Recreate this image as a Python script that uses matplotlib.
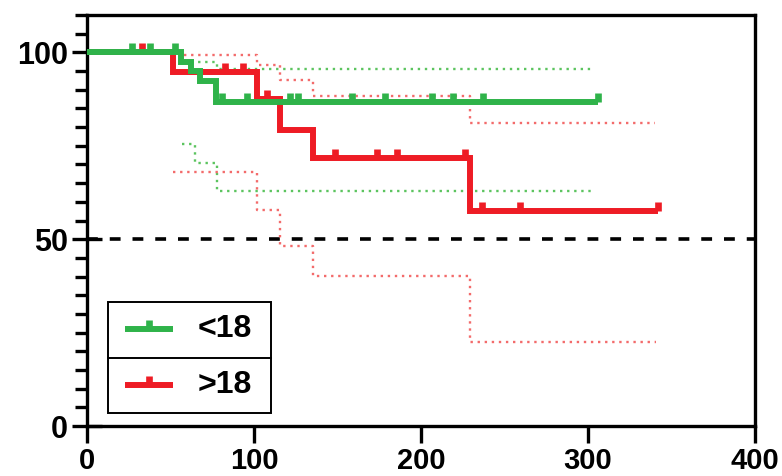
import numpy as np
import matplotlib
matplotlib.use("Agg")
import matplotlib.pyplot as plt
from matplotlib.patches import Rectangle
from matplotlib.lines import Line2D

# ---------------- data ----------------
# group <18 : Kaplan-Meier steps (event times, survival after event)
g_times = [0, 56.5, 62.5, 67.5, 77]
g_surv = [100, 97.5, 95.0, 92.3, 86.8]
g_end = 306
g_censor = [26.7, 37.7, 52.5, 80.7, 95.6, 121.6, 126.5, 158.5, 178.4, 206.4, 219.4, 237.3, 306]

# group >18
r_times = [0, 51.7, 101.6, 115.6, 135.5, 229.3]
r_surv = [100, 94.8, 87.4, 79.1, 71.6, 57.6]
r_end = 342
r_censor = [32.7, 82.6, 93.6, 107.6, 148.5, 173.5, 185.5, 226.3, 236.3, 259.3, 342]

# 95% confidence bands (step curves)
g_up_t = [62, 77.6]
g_up_v = [97.4, 95.5]
g_up_end = 303
g_lo_t = [56.7, 64.7, 77.6]
g_lo_v = [75.6, 70.5, 62.9]
g_lo_end = 302

r_up_t = [58, 101.6, 115.6, 135.5, 229.3]
r_up_v = [99.2, 96.5, 92.7, 88.4, 81.1]
r_up_end = 340
r_lo_t = [51.7, 101.6, 115.6, 135.5, 229.3]
r_lo_v = [68.0, 57.7, 48.1, 40.1, 22.5]
r_lo_end = 341

labels = ["<18", ">18"]
median_line = 50
x_ticks = [0, 100, 200, 300, 400]
y_ticks = [0, 50, 100]

GREEN = "#2fb34a"
RED = "#ee1c25"
GREEN_CI = "#5cc45f"
RED_CI = "#f36b6b"

plt.rcParams['font.family'] = ['Liberation Sans', 'DejaVu Sans']
plt.rcParams['font.weight'] = 'bold'

fig = plt.figure(figsize=(7.82, 4.76), dpi=100)
ax = fig.add_axes([87/782, 50/476, 668/782, 411/476])
ax.set_xlim(0, 400)
ax.set_ylim(0, 110)


def step_xy(times, vals, end):
    x = list(times) + [end]
    y = list(vals) + [vals[-1]]
    return x, y


def surv_at(times, vals, t):
    idx = np.searchsorted(np.asarray(times), t, side='right') - 1
    return vals[max(idx, 0)]


# median reference line
ax.axhline(median_line, color='black', lw=2.6, linestyle=(0, (3.0, 3.3)), zorder=1)

# CI bands
for (t, v, e, c) in [(g_up_t, g_up_v, g_up_end, GREEN_CI), (g_lo_t, g_lo_v, g_lo_end, GREEN_CI),
                     (r_up_t, r_up_v, r_up_end, RED_CI), (r_lo_t, r_lo_v, r_lo_end, RED_CI)]:
    x, y = step_xy(t, v, e)
    ax.step(x, y, where='post', color=c, lw=1.7, linestyle=(0, (1, 2)), zorder=2)

# KM curves (red first, green on top)
for (t, v, e, cens, c) in [(r_times, r_surv, r_end, r_censor, RED),
                           (g_times, g_surv, g_end, g_censor, GREEN)]:
    x, y = step_xy(t, v, e)
    ax.step(x, y, where='post', color=c, lw=4.3, solid_joinstyle='miter',
            solid_capstyle='butt', zorder=3)
    cy = [surv_at(t, v, ct) for ct in cens]
    ax.plot(cens, cy, linestyle='none', marker=2, markersize=6.2, mew=4.8,
            color=c, zorder=3)

# spines
for s in ax.spines.values():
    s.set_linewidth(2.4)
    s.set_color('black')

ax.set_xticks(x_ticks)
ax.set_xticklabels([str(v) for v in x_ticks])
ax.set_yticks(y_ticks)
ax.set_yticklabels([str(v) for v in y_ticks])
ax.set_yticks(np.arange(0, 111, 5), minor=True)
ax.tick_params(axis='y', which='major', direction='inout', length=21, width=2.4,
               labelsize=22, pad=3)
ax.tick_params(axis='y', which='minor', direction='out', length=8.5, width=2.4)
ax.tick_params(axis='x', which='major', direction='out', length=12, width=2.4,
               labelsize=21, pad=3)
for lab in ax.get_xticklabels() + ax.get_yticklabels():
    lab.set_fontweight('bold')

# legend (Prism style boxed with divider)
tr = ax.transAxes
box = Rectangle((0.031, 0.032), 0.244, 0.270, transform=tr, fill=False,
                edgecolor='black', lw=1.4, zorder=5)
ax.add_patch(box)
ax.add_line(Line2D([0.031, 0.275], [0.166, 0.166], transform=tr, color='black', lw=1.4, zorder=5))
for yy, c, lab in [(0.236, GREEN, labels[0]), (0.100, RED, labels[1])]:
    ax.add_line(Line2D([0.057, 0.128], [yy, yy], transform=tr, color=c, lw=4.3,
                       solid_capstyle='butt', zorder=5))
    ax.add_line(Line2D([0.0925], [yy], transform=tr, color=c, marker=2, markersize=6.2,
                       mew=4.8, linestyle='none', zorder=5))
    ax.text(0.166, yy, lab, transform=tr, fontsize=23, fontweight='bold',
            va='center', ha='left', zorder=5)

fig.savefig("out.png", dpi=100)
